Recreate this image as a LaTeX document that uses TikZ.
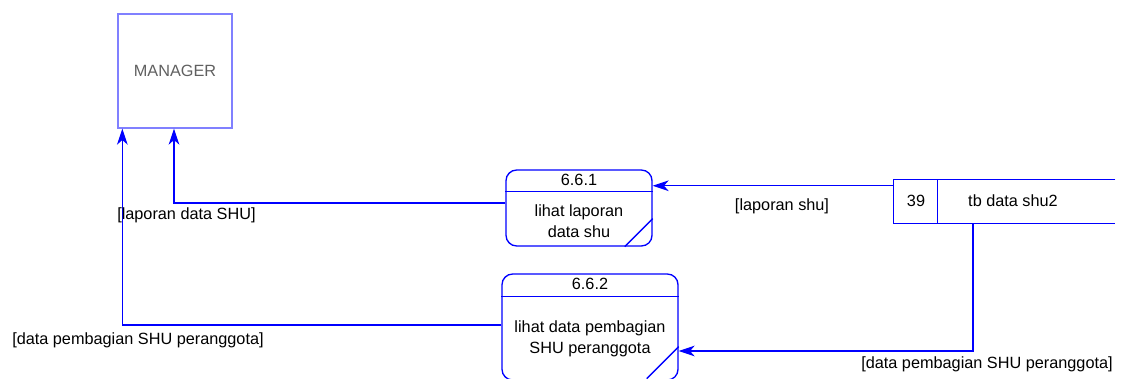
\documentclass[tikz,border=0pt]{standalone}
\usepackage{fontspec}
\setmainfont{Liberation Sans}
\usetikzlibrary{arrows.meta,positioning,calc}
\definecolor{cLine}{HTML}{0000FF}
\definecolor{cEnt}{HTML}{8080FF}
\definecolor{cEntTxt}{HTML}{606060}
\newcommand{\dfdfont}{\fontsize{12.2}{15.5}\selectfont}
\tikzset{
  ent/.style   = {rectangle, draw=cEnt, line width=1pt, minimum width=85.5pt,
                  minimum height=85.5pt, text=cEntTxt, font=\dfdfont},
  proc/.style  = {rectangle, rounded corners=8pt, draw=cLine, line width=1pt,
                  inner sep=0pt},
  store/.style = {rectangle, inner sep=0pt, minimum width=165.75pt, minimum height=32.25pt},
  ln/.style    = {draw=cLine, line width=1pt},
  fl/.style    = {draw=cLine, line width=1pt,
                  arrows={-Stealth[length=12pt, width=8pt, inset=3.5pt, fill=cLine]}},
  lab/.style   = {font=\dfdfont, inner sep=0pt, align=center},
}
\begin{document}
\begin{tikzpicture}[x=0.75pt, y=-0.75pt]
  \path[use as bounding box, clip] (0,0) rectangle (1123,378);

  % external entity
  \node[ent] (mgr) at (175,71) {MANAGER};

  % processes
  \node[proc, minimum width=109.5pt, minimum height=57pt] (p1) at (579,208) {};
  \draw[ln] ([yshift=-16.5pt]p1.north west) -- ([yshift=-16.5pt]p1.north east);
  \draw[ln] ([xshift=-21pt]p1.south east) -- ([yshift=21pt]p1.south east);
  \node[lab] (p1id) at ($(p1.north)+(0,11)$) {6.6.1};
  \node[lab] (p1txt) at (579,221) {lihat laporan\\data shu};

  \node[proc, minimum width=132pt, minimum height=79.5pt] (p2) at (590,327) {};
  \draw[ln] ([yshift=-17.25pt]p2.north west) -- ([yshift=-17.25pt]p2.north east);
  \draw[ln] ([xshift=-24pt,yshift=1.5pt]p2.south east) -- ([yshift=25.5pt]p2.south east);
  \node[lab] (p2id) at ($(p2.north)+(0,11)$) {6.6.2};
  \node[lab] (p2txt) at (590,339) {lihat data pembagian\\SHU peranggota};

  % data store
  \node[store] (ds) at (1004.5,201.5) {};
  \draw[ln] (ds.north east) -- (ds.north west) -- (ds.south west) -- (ds.south east);
  \draw[ln] ([xshift=33pt]ds.north west) -- ([xshift=33pt]ds.south west);
  \node[lab] (dsno) at (916,201) {39};
  \node[lab] (dsname) at (1013,201) {tb data shu2};

  % flows
  \draw[fl] ([yshift=-4.5pt]ds.north west) -- ([yshift=-4.5pt]ds.north west -| p1.east);
  \draw[fl] ([yshift=3.75pt]p1.west) -| ([xshift=-0.75pt]mgr.south);
  \draw[fl] ([yshift=1.5pt]p2.west) -| ([xshift=3.75pt]mgr.south west);
  \draw[fl] ([xshift=-23.6pt]ds.south) |- ([yshift=-18pt]p2.east);

  \node[lab] (l1) at (782,206) {[laporan shu]};
  \node[lab, anchor=west] (l2) at (117,215) {[laporan data SHU]};
  \node[lab, anchor=west] (l3) at (12,340) {[data pembagian SHU peranggota]};
  \node[lab] (l4) at (987,364) {[data pembagian SHU peranggota]};
\end{tikzpicture}
\end{document}
